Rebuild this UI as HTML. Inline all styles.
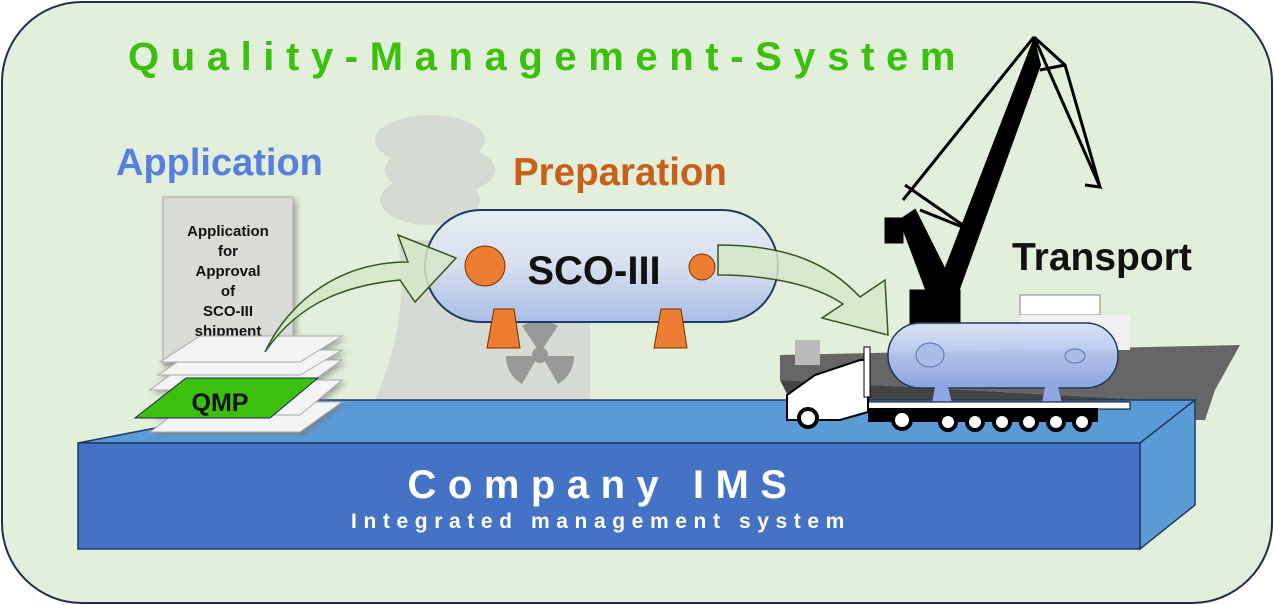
<!DOCTYPE html>
<html><head><meta charset="utf-8"><style>
html,body{margin:0;padding:0;background:#fff;}
svg{display:block;}
text{font-family:"Liberation Sans",sans-serif;font-weight:bold;}
</style></head><body>
<svg width="1274" height="605" viewBox="0 0 1274 605" xmlns="http://www.w3.org/2000/svg">
<defs>
<linearGradient id="tank" x1="0" y1="0" x2="0" y2="1">
<stop offset="0" stop-color="#e6eef4"/><stop offset="0.5" stop-color="#d6e0ee"/><stop offset="1" stop-color="#a9bde6"/></linearGradient>
<linearGradient id="tank2" x1="0" y1="0" x2="0" y2="1">
<stop offset="0" stop-color="#d8e2f4"/><stop offset="1" stop-color="#8fa7e6"/></linearGradient>
<filter id="sh" x="-20%" y="-20%" width="140%" height="140%"><feDropShadow dx="3" dy="3" stdDeviation="3" flood-color="#777" flood-opacity="0.6"/></filter>
</defs>
<rect x="2" y="2" width="1270" height="601" rx="80" fill="#e2efda" stroke="#1f2d4a" stroke-width="2"/>
<text x="128" y="70" font-size="40" fill="#3cc00e" letter-spacing="11.6">Quality-Management-System</text>
<text x="116" y="175" font-size="38" fill="#5580e0">Application</text>
<text x="513" y="185" font-size="38.5" fill="#c9601a">Preparation</text>

<!-- smoke & cooling tower -->
<g fill="#d4d8d2" opacity="0.9">
<ellipse cx="430" cy="140" rx="55" ry="25"/><ellipse cx="440" cy="170" rx="55" ry="25"/><ellipse cx="430" cy="200" rx="50" ry="25"/>
<path d="M398 240 L488 240 C475 300 500 360 520 410 L370 410 C395 360 408 300 398 240Z"/>
<rect x="490" y="300" width="100" height="112"/>
</g>
<g fill="#999"><circle cx="540" cy="355" r="8"/>
<path d="M540 355 L522 328 A32 32 0 0 1 558 328Z" transform="translate(0,-2)"/>
<path d="M540 355 L572 355 A32 32 0 0 1 556 383Z" transform="translate(2,1)"/>
<path d="M540 355 L524 383 A32 32 0 0 1 508 355Z" transform="translate(-2,1)"/></g>

<!-- ship -->
<g>
<path d="M780 355 L1240 345 L1215 390 L1205 420 L1150 420 L1150 400 L780 380Z" fill="#666"/>
<path d="M780 380 L1150 400 L1150 420 L790 400Z" fill="#444"/>
<rect x="1020" y="295" width="80" height="20" fill="#fff" stroke="#888"/>
<rect x="1020" y="315" width="110" height="35" fill="#f0f0f0"/>
<rect x="795" y="340" width="25" height="25" fill="#bbb"/>
</g>

<!-- platform -->
<path d="M78 443 L300 400 L1195 400 L1140 443Z" fill="#5b9bd5" stroke="#1f3864" stroke-width="1.5"/>
<path d="M1140 443 L1195 400 L1195 505 L1140 549Z" fill="#5b9bd5" stroke="#1f3864" stroke-width="1.5"/>
<rect x="78" y="443" width="1062" height="106" fill="#4472c4" stroke="#1f3864" stroke-width="1.5"/>
<text x="603" y="498" font-size="40" fill="#fff" text-anchor="middle" letter-spacing="11.5">Company IMS</text>
<text x="601" y="528" font-size="21" fill="#fff" text-anchor="middle" letter-spacing="6.6">Integrated management system</text>

<!-- doc -->
<rect x="163" y="197" width="130" height="167" fill="#d9dcd6" stroke="#aaa" filter="url(#sh)"/>
<g font-size="15" fill="#111" text-anchor="middle">
<text x="228" y="236">Application</text><text x="228" y="256">for</text><text x="228" y="276">Approval</text>
<text x="228" y="296">of</text><text x="228" y="316">SCO-III</text><text x="228" y="336">shipment</text></g>
<!-- papers -->
<g stroke="#aaa" fill="#f4f4f4" filter="url(#sh)">
<path d="M150 432 L300 432 L342 402 L190 402Z"/>
<path d="M152 415 L300 415 L342 380 L190 380Z"/>
<path d="M150 390 L300 390 L342 360 L190 360Z"/>
<path d="M158 375 L300 375 L342 350 L195 350Z"/>
<path d="M160 362 L300 362 L342 336 L200 336Z"/>
</g>
<path d="M135 418 L270 418 L318 378 L186 378Z" fill="#3cc00e" stroke="#225"/>
<text x="220" y="411" font-size="25" fill="#111" text-anchor="middle">QMP</text>

<!-- tank -->
<rect x="425" y="210" width="353" height="112" rx="56" fill="url(#tank)" stroke="#1f3864" stroke-width="2"/>
<circle cx="485" cy="266" r="20" fill="#ed7d31" stroke="#7a3000"/>
<circle cx="702" cy="267" r="13" fill="#ed7d31" stroke="#7a3000"/>
<text x="594" y="284" font-size="40" fill="#111" text-anchor="middle">SCO-III</text>
<path d="M494 309 L514 309 L520 348 L487 348Z" fill="#ed7d31" stroke="#7a3000"/>
<path d="M661 309 L681 309 L687 348 L654 348Z" fill="#ed7d31" stroke="#7a3000"/>

<!-- arrows -->
<path d="M265 352 C300 300 350 285 400 280 L415 302 L456 258 L398 235 L408 262 C340 262 290 300 265 352Z" fill="#d4e8c8" fill-opacity="0.85" stroke="#375623" stroke-width="1.5"/>
<path d="M718 245 C790 245 830 265 860 297 L885 280 L888 335 L822 318 L843 304 C815 285 770 275 718 275Z" fill="#d4e8c8" fill-opacity="0.85" stroke="#375623" stroke-width="1.5"/>

<!-- crane -->
<g stroke="#000" fill="none">
<path d="M1034 37 L903 200 M1034 37 L1100 187 L1085 185 M1034 37 L1065 65 L1100 187 M1040 70 L1065 65 M905 185 L970 230 M920 210 L970 230" stroke-width="3"/>
<path d="M1034 40 L1040 65 L955 300 L930 300 L900 220 L915 210 L945 270Z" fill="#000" stroke-width="2"/>
<rect x="910" y="290" width="50" height="35" fill="#000"/>
<rect x="885" y="218" width="18" height="25" fill="#000"/>
</g>
<text x="1012" y="270" font-size="39" fill="#111">Transport</text>

<!-- transport tank & truck -->
<rect x="888" y="323" width="230" height="65" rx="32" fill="url(#tank2)" fill-opacity="0.95" stroke="#1f3864" stroke-width="1.5"/>
<ellipse cx="930" cy="355" rx="14" ry="12" fill="#a9bde6" stroke="#5570b0"/>
<ellipse cx="1075" cy="356" rx="10" ry="7" fill="#a9bde6" stroke="#5570b0"/>
<path d="M935 387 L948 387 L952 403 L932 403Z M1045 387 L1058 387 L1062 403 L1042 403Z" fill="#8fa7e6"/>
<rect x="860" y="402" width="270" height="7" fill="#fff" stroke="#000"/>
<path d="M787 420 L787 395 L815 375 L860 360 L868 360 L868 412 L840 420Z" fill="#fff" stroke="#000" stroke-width="2"/>
<rect x="864" y="347" width="6" height="50" fill="#fff" stroke="#000"/>
<rect x="868" y="408" width="230" height="14" fill="#000"/>
<g fill="#fff" stroke="#000" stroke-width="4">
<circle cx="808" cy="418" r="9"/><circle cx="902" cy="420" r="9"/><circle cx="948" cy="422" r="8"/><circle cx="975" cy="422" r="8"/>
<circle cx="1002" cy="422" r="8"/><circle cx="1029" cy="422" r="8"/><circle cx="1056" cy="422" r="8"/><circle cx="1082" cy="422" r="8"/></g>
</svg>
</body></html>
